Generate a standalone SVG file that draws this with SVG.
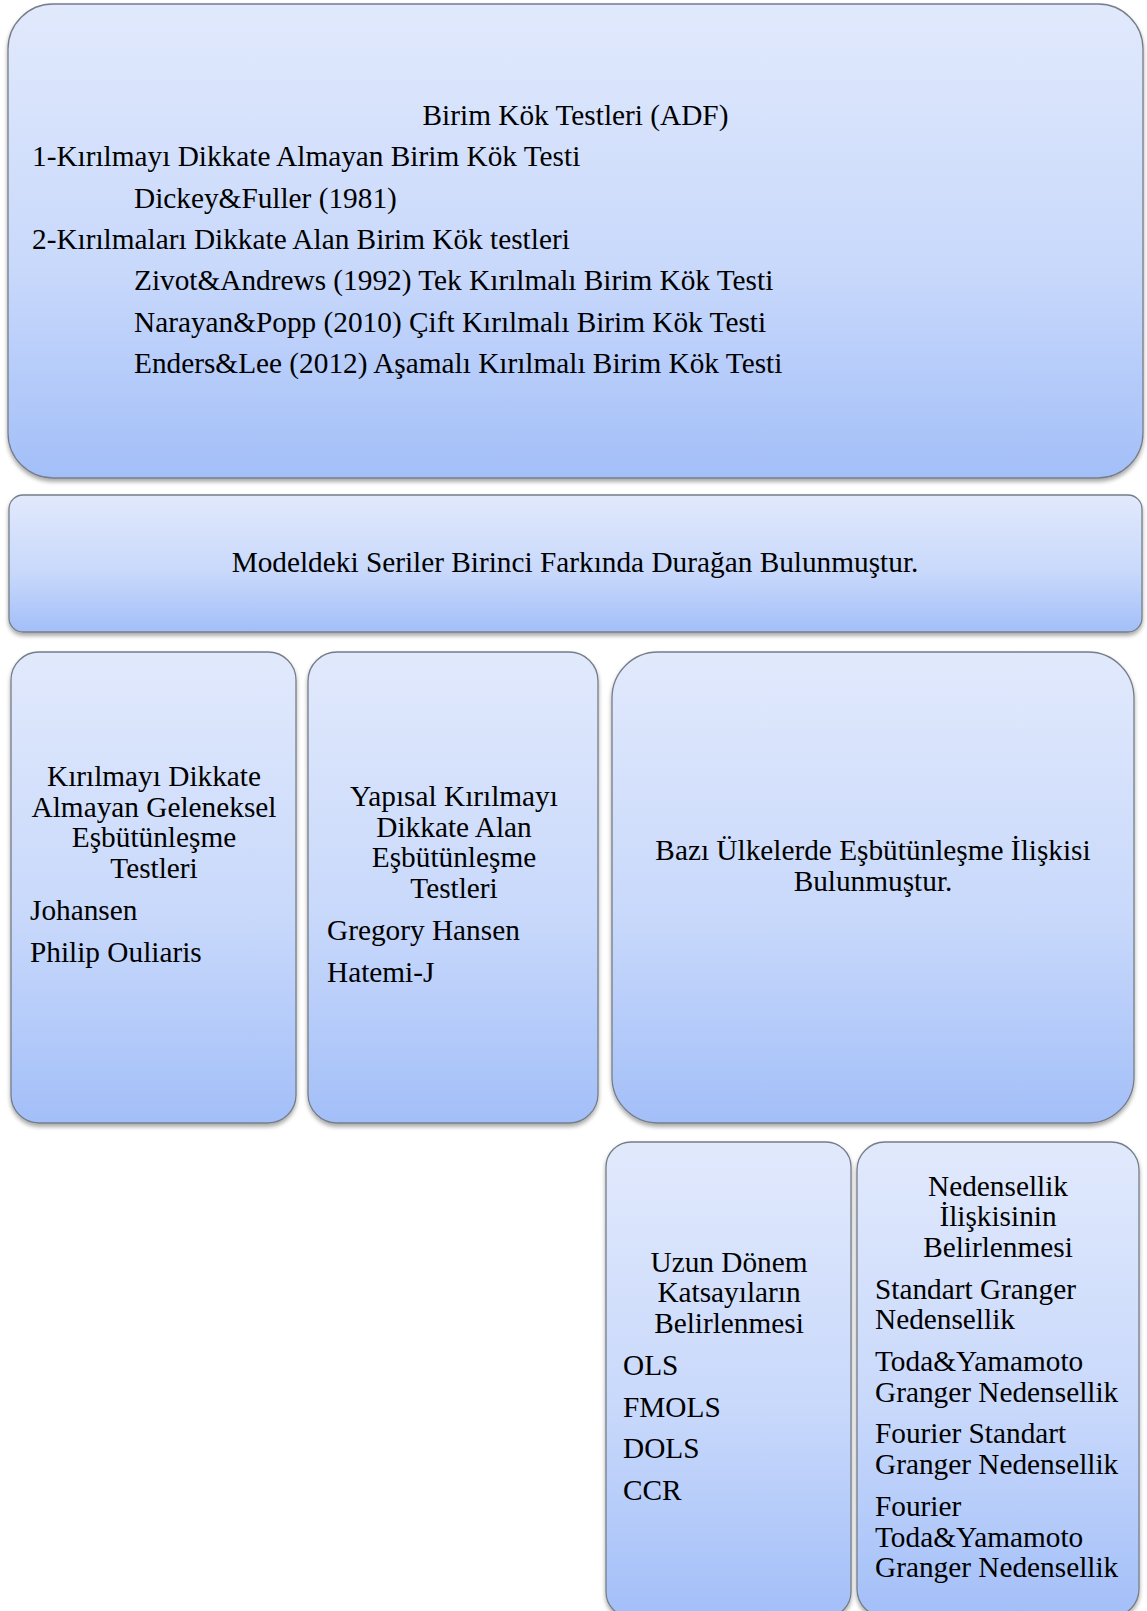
<svg xmlns="http://www.w3.org/2000/svg" width="1147" height="1611" viewBox="0 0 1147 1611">
<defs>
<linearGradient id="g" x1="0" y1="0" x2="0" y2="1">
<stop offset="0" stop-color="#e1e9fc"/>
<stop offset="0.55" stop-color="#c9d9fb"/>
<stop offset="1" stop-color="#a3bff8"/>
</linearGradient>
<filter id="sh" x="-5%" y="-5%" width="110%" height="115%">
<feDropShadow dx="0" dy="3" stdDeviation="2.2" flood-color="#000" flood-opacity="0.35"/>
</filter>
</defs>
<style>
.box{fill:url(#g);stroke:#767d88;stroke-width:1.3;filter:url(#sh)}
text{font-family:"Liberation Serif","Times New Roman",serif;font-size:29.3px;fill:#000}
.c{text-anchor:middle}
</style>
<rect width="1147" height="1611" fill="#fff"/>
<g id="connectors"/>
<g id="birim-kok">
<rect class="box" x="8" y="4" width="1135" height="474" rx="45" ry="45"/>
<text class="c" x="575.5" y="125">Birim Kök Testleri (ADF)</text>
<text x="32" y="166.3">1-Kırılmayı Dikkate Almayan Birim Kök Testi</text>
<text x="134" y="207.6">Dickey&amp;Fuller (1981)</text>
<text x="32" y="248.9">2-Kırılmaları Dikkate Alan Birim Kök testleri</text>
<text x="134" y="290.2">Zivot&amp;Andrews (1992) Tek Kırılmalı Birim Kök Testi</text>
<text x="134" y="331.5">Narayan&amp;Popp (2010) Çift Kırılmalı Birim Kök Testi</text>
<text x="134" y="372.8">Enders&amp;Lee (2012) Aşamalı Kırılmalı Birim Kök Testi</text>
</g>
<g id="duragan">
<rect class="box" x="9" y="495" width="1133" height="137" rx="14" ry="14"/>
<text class="c" x="575" y="572">Modeldeki Seriler Birinci Farkında Durağan Bulunmuştur.</text>
</g>
<g id="geleneksel">
<rect class="box" x="11" y="652" width="285" height="471" rx="28" ry="28"/>
<text class="c" x="154" y="786">Kırılmayı Dikkate</text>
<text class="c" x="154" y="816.7">Almayan Geleneksel</text>
<text class="c" x="154" y="847.4">Eşbütünleşme</text>
<text class="c" x="154" y="878.1">Testleri</text>
<text x="30" y="919.8">Johansen</text>
<text x="30" y="961.5">Philip Ouliaris</text>
</g>
<g id="yapisal">
<rect class="box" x="308" y="652" width="290" height="471" rx="29" ry="29"/>
<text class="c" x="454" y="806">Yapısal Kırılmayı</text>
<text class="c" x="454" y="836.7">Dikkate Alan</text>
<text class="c" x="454" y="867.4">Eşbütünleşme</text>
<text class="c" x="454" y="898.1">Testleri</text>
<text x="327" y="939.8">Gregory Hansen</text>
<text x="327" y="981.5">Hatemi-J</text>
</g>
<g id="esbutunlesme">
<rect class="box" x="612" y="652" width="522" height="471" rx="46" ry="46"/>
<text class="c" x="873" y="860">Bazı Ülkelerde Eşbütünleşme İlişkisi</text>
<text class="c" x="873" y="890.7">Bulunmuştur.</text>
</g>
<g id="uzun-donem">
<rect class="box" x="606" y="1142" width="245" height="475" rx="25" ry="25"/>
<text class="c" x="729" y="1271.7">Uzun Dönem</text>
<text class="c" x="729" y="1302.4">Katsayıların</text>
<text class="c" x="729" y="1333.1">Belirlenmesi</text>
<text x="623" y="1374.8">OLS</text>
<text x="623" y="1416.5">FMOLS</text>
<text x="623" y="1458.2">DOLS</text>
<text x="623" y="1499.9">CCR</text>
</g>
<g id="nedensellik">
<rect class="box" x="857" y="1142" width="282" height="475" rx="28" ry="28"/>
<text class="c" x="998" y="1195.5">Nedensellik</text>
<text class="c" x="998" y="1226.2">İlişkisinin</text>
<text class="c" x="998" y="1256.9">Belirlenmesi</text>
<text x="875" y="1298.6">Standart Granger</text>
<text x="875" y="1329.3">Nedensellik</text>
<text x="875" y="1371">Toda&amp;Yamamoto</text>
<text x="875" y="1401.7">Granger Nedensellik</text>
<text x="875" y="1443.4">Fourier Standart</text>
<text x="875" y="1474.1">Granger Nedensellik</text>
<text x="875" y="1515.8">Fourier</text>
<text x="875" y="1546.5">Toda&amp;Yamamoto</text>
<text x="875" y="1577.2">Granger Nedensellik</text>
</g>
</svg>
